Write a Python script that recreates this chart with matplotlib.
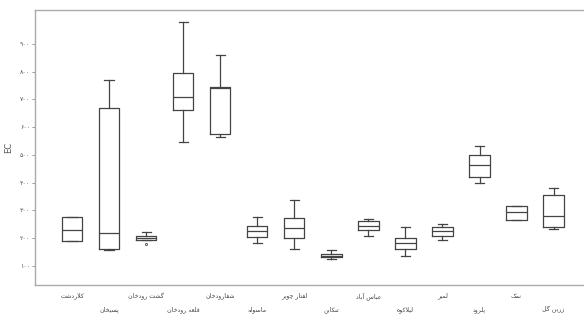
import matplotlib
matplotlib.use("Agg")
import matplotlib.pyplot as plt

# ایستگاه ها و آمار جعبه ای EC
stations = ["کلاردشت", "پسیخان", "گشت رودخان", "قلعه رودخان", "شفارودخان",
            "ماسوله", "لفتار چوبر", "تنکابن", "عباس آباد", "لیلاکوه",
            "لمیر", "پلرود", "نمک", "زرین گل"]
whislo = [190, 158, 194, 547, 565, 183, 161, 125, 208, 136, 194, 399, 266, 233]
q1 = [190, 161, 194, 662, 576, 205, 201, 132, 230, 161, 208, 421, 266, 241]
med = [230, 219, 201, 709, 741, 226, 237, 136, 244, 183, 226, 464, 295, 280]
q3 = [277, 669, 208, 795, 745, 244, 273, 143, 262, 201, 241, 500, 316, 356]
whishi = [277, 770, 222, 979, 860, 277, 338, 158, 269, 241, 251, 532, 316, 381]
fliers = [[], [], [179], [], [], [], [], [], [], [], [], [], [], []]
yticks = [100, 200, 300, 400, 500, 600, 700, 800, 900]

# شکل حروف فارسی (جدا، پایانی، آغازی، میانی)
FORMS = {
    "ا": ("\uFE8D", "\uFE8E"), "آ": ("\uFE81", "\uFE82"),
    "د": ("\uFEA9", "\uFEAA"), "ر": ("\uFEAD", "\uFEAE"),
    "ز": ("\uFEAF", "\uFEB0"), "و": ("\uFEED", "\uFEEE"),
    "ب": ("\uFE8F", "\uFE90", "\uFE91", "\uFE92"),
    "پ": ("\uFB56", "\uFB57", "\uFB58", "\uFB59"),
    "ت": ("\uFE95", "\uFE96", "\uFE97", "\uFE98"),
    "چ": ("\uFB7A", "\uFB7B", "\uFB7C", "\uFB7D"),
    "خ": ("\uFEA5", "\uFEA6", "\uFEA7", "\uFEA8"),
    "س": ("\uFEB1", "\uFEB2", "\uFEB3", "\uFEB4"),
    "ش": ("\uFEB5", "\uFEB6", "\uFEB7", "\uFEB8"),
    "ع": ("\uFEC9", "\uFECA", "\uFECB", "\uFECC"),
    "ف": ("\uFED1", "\uFED2", "\uFED3", "\uFED4"),
    "ق": ("\uFED5", "\uFED6", "\uFED7", "\uFED8"),
    "ک": ("\uFB8E", "\uFB8F", "\uFB90", "\uFB91"),
    "گ": ("\uFB92", "\uFB93", "\uFB94", "\uFB95"),
    "ل": ("\uFEDD", "\uFEDE", "\uFEDF", "\uFEE0"),
    "م": ("\uFEE1", "\uFEE2", "\uFEE3", "\uFEE4"),
    "ن": ("\uFEE5", "\uFEE6", "\uFEE7", "\uFEE8"),
    "ه": ("\uFEE9", "\uFEEA", "\uFEEB", "\uFEEC"),
    "ی": ("\uFBFC", "\uFBFD", "\uFBFE", "\uFBFF"),
}


def shape(text):
    out = []
    i = 0
    n = len(text)
    while i < n:
        c = text[i]
        if c not in FORMS:
            out.append(c)
            i += 1
            continue
        prev = text[i - 1] if i > 0 else " "
        joins_prev = prev in FORMS and len(FORMS[prev]) == 4
        if c == "ل" and i + 1 < n and text[i + 1] in "اآ":
            lig = ("\uFEFB", "\uFEFC") if text[i + 1] == "ا" else ("\uFEF5", "\uFEF6")
            out.append(lig[1] if joins_prev else lig[0])
            i += 2
            continue
        nxt = text[i + 1] if i + 1 < n else " "
        f = FORMS[c]
        joins_next = len(f) == 4 and nxt in FORMS
        if joins_prev and joins_next:
            out.append(f[3])
        elif joins_prev:
            out.append(f[1])
        elif joins_next:
            out.append(f[2])
        else:
            out.append(f[0])
        i += 1
    return "".join(out)[::-1]


def fa_digits(v):
    return str(v).translate(str.maketrans("0123456789", "۰۱۲۳۴۵۶۷۸۹"))


stats = []
for k in range(len(stations)):
    stats.append({"whislo": whislo[k], "q1": q1[k], "med": med[k],
                  "q3": q3[k], "whishi": whishi[k], "fliers": fliers[k]})

fig = plt.figure(figsize=(5.84, 3.25), dpi=100)
ax = fig.add_axes([0.06, 0.123, 0.945, 0.846])

pos = list(range(1, len(stations) + 1))
lc = "#444444"
ax.bxp(stats, positions=pos, widths=0.55, capwidths=0.25,
       boxprops=dict(color=lc, linewidth=0.9),
       medianprops=dict(color=lc, linewidth=0.9),
       whiskerprops=dict(color=lc, linewidth=0.9),
       capprops=dict(color=lc, linewidth=0.9),
       flierprops=dict(marker="o", markersize=1.5, markerfacecolor="none",
                       markeredgecolor=lc, markeredgewidth=0.6))

ax.set_xlim(0, 14.9)
ax.set_ylim(31, 1022)
ax.set_yticks(yticks)
ax.set_yticklabels([fa_digits(v) for v in yticks], fontsize=4.5, color="#555555")
ax.tick_params(axis="y", length=2, width=0.6, color="#888888", pad=1.5)
ax.set_xticks([])
ax.set_ylabel("EC", fontsize=6, color="#555555", labelpad=5)

for k, name in enumerate(stations):
    ypix = -0.04 if k % 2 == 0 else -0.09
    ax.text(pos[k], 31 + ypix * (1022 - 31), shape(name), ha="center",
            va="center", fontsize=4.5, color="#444444", family="DejaVu Sans")

for s in ax.spines.values():
    s.set_color("#aaaaaa")
    s.set_linewidth(1.0)
ax.spines["right"].set_visible(False)

fig.savefig("out.png", dpi=100)
